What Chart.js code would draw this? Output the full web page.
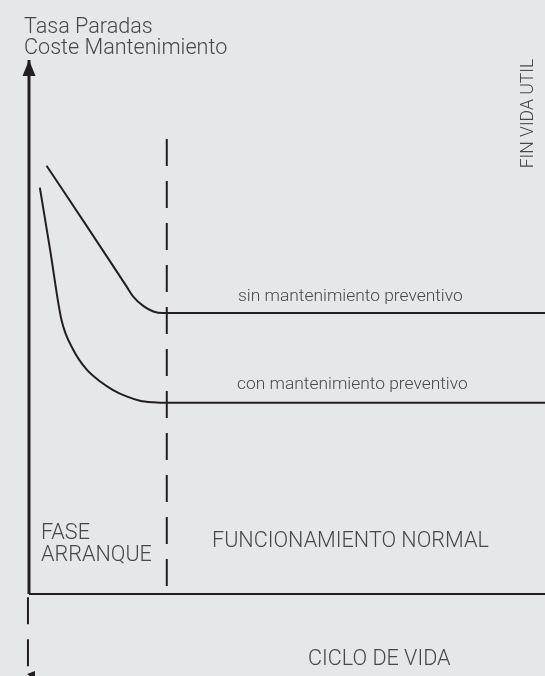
<!DOCTYPE html>
<html>
<head>
<meta charset="utf-8">
<script src="https://cdn.jsdelivr.net/npm/chart.js@4.4.1/dist/chart.umd.min.js"></script>
<style>
    body { margin: 0; background: #e6e7e8; }
    canvas { display: block; }
</style>
</head>
<body>
<canvas id="myChart" width="545" height="676"></canvas>
<script>
// time axis 0..100 (ciclo de vida), rate axis 0..100 (tasa paradas / coste)
const sinX = [3.4, 11.2, 18.9, 20.2, 22.2, 24.1, 26.0, 100];
const sinY = [80.2, 68.9, 57.6, 55.7, 53.9, 52.9, 52.6, 52.6];

const conX = [2.1, 4.1, 6.3, 8.6, 11.2, 13.8, 16.3, 18.9, 21.5, 24.1, 26.7, 100];
const conY = [76.1, 64.4, 51.3, 45.7, 42.0, 39.8, 38.2, 37.0, 36.2, 35.9, 35.8, 35.8];

// end of start-up phase
const phaseEndX = 26.7;
const phaseLineY = [85.2, 1.5];

const axisTitle = ['Tasa Paradas', 'Coste Mantenimiento'];
const curveLabels = ['sin mantenimiento preventivo', 'con mantenimiento preventivo'];
const phaseLabels = ['FASE', 'ARRANQUE', 'FUNCIONAMIENTO NORMAL'];
const endLabel = 'FIN VIDA UTIL';
const cycleLabel = 'CICLO DE VIDA';

const INK = '#231f20';
const TEXT = '#474749';
const FONT = 'Roboto, "DejaVu Sans", sans-serif';

function toPoints(xs, ys) {
    return xs.map((x, i) => ({ x: x, y: ys[i] }));
}

function lineSet(data, extra) {
    return Object.assign({
        data: data,
        borderColor: INK,
        borderWidth: 2,
        pointRadius: 0,
        fill: false,
        clip: false,
        tension: 0
    }, extra);
}

const background = {
    id: 'background',
    beforeDraw(chart) {
        const ctx = chart.ctx;
        ctx.save();
        ctx.fillStyle = '#e6e7e8';
        ctx.fillRect(0, 0, chart.width, chart.height);
        ctx.restore();
    }
};

const annotations = {
    id: 'annotations',
    afterDatasetsDraw(chart) {
        const ctx = chart.ctx;
        const x = chart.scales.x;
        const y = chart.scales.y;
        const x0 = x.getPixelForValue(0);

        ctx.save();
        // arrow head on the vertical axis
        ctx.fillStyle = INK;
        ctx.beginPath();
        ctx.moveTo(x0, y.top);
        ctx.lineTo(x0 - 6.5, y.top + 16);
        ctx.lineTo(x0 + 6.5, y.top + 16);
        ctx.closePath();
        ctx.fill();

        // small arrow tip at the bottom edge
        ctx.beginPath();
        ctx.moveTo(x0 - 2, chart.height - 2);
        ctx.lineTo(x0 + 6, chart.height - 5);
        ctx.lineTo(x0 + 6, chart.height + 4);
        ctx.closePath();
        ctx.fill();

        ctx.fillStyle = TEXT;
        ctx.textBaseline = 'alphabetic';
        ctx.textAlign = 'left';

        ctx.font = '300 21.6px ' + FONT;
        ctx.fillText(axisTitle[0], 24, 33);
        ctx.fillText(axisTitle[1], 24, 54);

        ctx.font = '300 17.4px ' + FONT;
        ctx.fillText(curveLabels[0], 238, y.getPixelForValue(sinY[sinY.length - 1]) - 12.5);
        ctx.fillText(curveLabels[1], 237, y.getPixelForValue(conY[conY.length - 1]) - 13.5);

        ctx.font = '300 21.6px ' + FONT;
        ctx.fillText(phaseLabels[0], 41, 538.5);
        ctx.fillText(phaseLabels[1], 41, 560.5);
        ctx.fillText(phaseLabels[2], 212, 546.5);
        ctx.fillText(cycleLabel, 308, 665);

        // rotated label at the top right
        ctx.font = '300 17.6px ' + FONT;
        ctx.translate(533, 113.5);
        ctx.rotate(-Math.PI / 2);
        ctx.textAlign = 'center';
        ctx.fillText(endLabel, 0, 0);
        ctx.restore();
    }
};

const ctx = document.getElementById('myChart').getContext('2d');
new Chart(ctx, {
    type: 'line',
    data: {
        datasets: [
            lineSet(toPoints(sinX, sinY), { cubicInterpolationMode: 'monotone' }),
            lineSet(toPoints(conX, conY), { cubicInterpolationMode: 'monotone' }),
            lineSet(toPoints([phaseEndX, phaseEndX], phaseLineY), { borderDash: [27, 15] }),
            // axes
            lineSet(toPoints([0, 0], [100, 0]), { borderWidth: 3 }),
            lineSet(toPoints([0, 100], [0, 0])),
            lineSet(toPoints([-0.2, -0.2], [-0.6, -16]), { borderDash: [27, 15] })
        ]
    },
    options: {
        responsive: false,
        animation: false,
        layout: { padding: { left: 29, top: 60, right: 0, bottom: 82 } },
        scales: {
            x: { type: 'linear', min: 0, max: 100, display: false },
            y: { type: 'linear', min: 0, max: 100, display: false }
        },
        plugins: {
            legend: { display: false },
            tooltip: { enabled: false }
        }
    },
    plugins: [background, annotations]
});
</script>
</body>
</html>
